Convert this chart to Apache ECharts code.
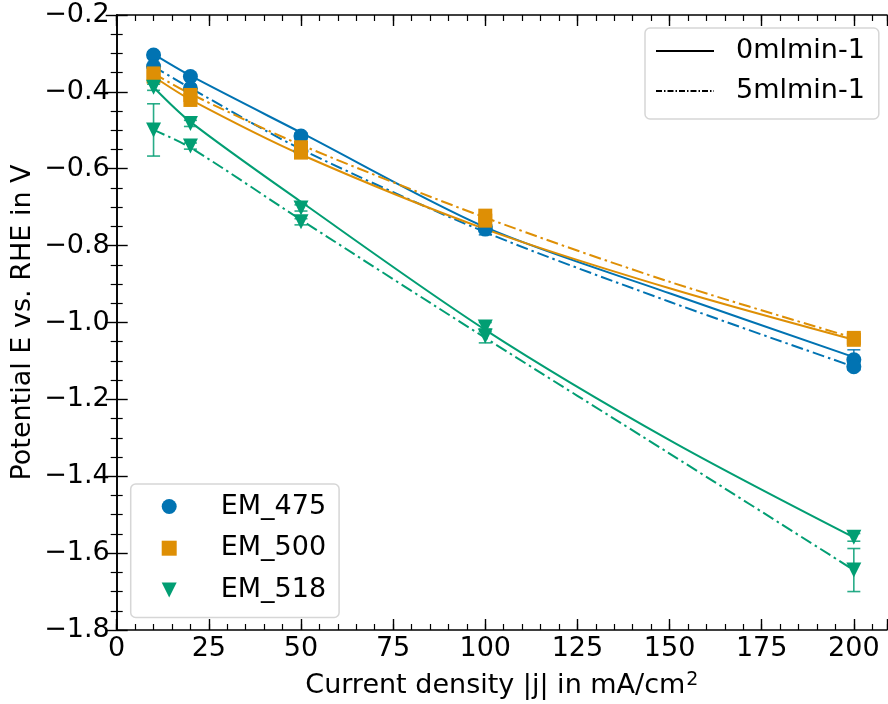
<!DOCTYPE html>
<html><head><meta charset="utf-8">
<script src="https://cdn.jsdelivr.net/npm/echarts@6/dist/echarts.min.js"></script>
<style>html,body{margin:0;padding:0;background:#fff}#c{width:888px;height:704px}</style>
</head><body><div id="c"></div>
<script>
// ---- data ----
const currentDensity = [10, 20, 50, 100, 200];
const xTicks = [0, 25, 50, 75, 100, 125, 150, 175, 200];
const yTicks = [-1.8, -1.6, -1.4, -1.2, -1.0, -0.8, -0.6, -0.4, -0.2];

const em475_0ml     = [-0.304, -0.360, -0.515, -0.751, -1.097];
const em475_0ml_err = [0.008, 0.008, 0.008, 0.008, 0.026];
const em475_5ml     = [-0.334, -0.391, -0.554, -0.757, -1.115];
const em475_5ml_err = [0.008, 0.008, 0.008, 0.015, 0.008];
const em500_0ml     = [-0.360, -0.421, -0.558, -0.735, -1.045];
const em500_0ml_err = [0.008, 0.008, 0.008, 0.008, 0.008];
const em500_5ml     = [-0.352, -0.408, -0.544, -0.722, -1.040];
const em500_5ml_err = [0.008, 0.008, 0.008, 0.008, 0.010];
const em518_0ml     = [-0.388, -0.482, -0.702, -1.012, -1.559];
const em518_0ml_err = [0.008, 0.008, 0.008, 0.012, 0.010];
const em518_5ml     = [-0.499, -0.541, -0.738, -1.035, -1.644];
const em518_5ml_err = [0.068, 0.008, 0.008, 0.018, 0.056];

// fitted curves
const fitDensity  = [10, 20, 50, 100, 150, 200];
const fit475_0ml  = [-0.302, -0.358, -0.506, -0.752, -0.924, -1.090];
const fit475_5ml  = [-0.334, -0.390, -0.549, -0.765, -0.946, -1.115];
const fit500_0ml  = [-0.360, -0.420, -0.563, -0.757, -0.911, -1.045];
const fit500_5ml  = [-0.352, -0.405, -0.538, -0.727, -0.894, -1.040];
const fit518_0ml  = [-0.388, -0.478, -0.686, -1.019, -1.306, -1.559];
const fit518_5ml  = [-0.499, -0.545, -0.733, -1.040, -1.341, -1.644];

const sampleNames = ['EM_475', 'EM_500', 'EM_518'];
const flowNames = ['0mlmin-1', '5mlmin-1'];

// ---- styling ----
const FONT = 'DejaVu Sans';
const C_BLUE = '#0173b2', C_ORANGE = '#de8f05', C_GREEN = '#029e73';
const DASHDOT = [12, 4, 2.5, 4];
const TRI_DOWN = 'path://M0,0 L20,0 L10,20 Z';

function pts(xs, ys) { return xs.map((x, i) => [x, ys[i]]); }
function errPts(xs, ys, es) { return xs.map((x, i) => [x, ys[i], es[i]]); }

function fitSeries(xs, ys, color, dashed) {
  return {
    type: 'line', data: pts(xs, ys), smooth: 0.3, symbol: 'none', z: 2,
    silent: true, legendHoverLink: false,
    lineStyle: { color: color, width: 2, type: dashed ? DASHDOT : 'solid' }
  };
}
function errSeries(data, color) {
  return {
    type: 'custom', z: 3, silent: true, data: data,
    renderItem: function (params, api) {
      const x = api.value(0), y = api.value(1), e = api.value(2);
      const t = api.coord([x, y + e]), b = api.coord([x, y - e]);
      const st = { stroke: color, lineWidth: 1.6, opacity: 0.85 };
      return { type: 'group', children: [
        { type: 'line', shape: { x1: t[0], y1: t[1], x2: b[0], y2: b[1] }, style: st },
        { type: 'line', shape: { x1: t[0] - 6.5, y1: t[1], x2: t[0] + 6.5, y2: t[1] }, style: st },
        { type: 'line', shape: { x1: b[0] - 6.5, y1: b[1], x2: b[0] + 6.5, y2: b[1] }, style: st }
      ]};
    }
  };
}
function markerSeries(name, data, color, symbol, size) {
  return {
    type: 'scatter', name: name, data: data, symbol: symbol, symbolSize: size, z: 4,
    itemStyle: { color: color, opacity: 1 }
  };
}

const axisLine = { show: true, lineStyle: { color: '#000', width: 1.6 } };
const majorTick = { show: true, inside: true, length: 11, lineStyle: { color: '#000', width: 1.4 } };
const minorTickStyle = { show: true, inside: true, length: 6, lineStyle: { color: '#000', width: 1.2 } };

const option = {
  backgroundColor: '#fff',
  animation: false,
  textStyle: { fontFamily: FONT },
  grid: { left: 116.7, right: 1, top: 15, bottom: 74, containLabel: false, outerBoundsMode: 'none' },
  xAxis: [
    { type: 'value', position: 'bottom', min: 0, max: 209, interval: 25,
      axisLine: axisLine, axisTick: majorTick, splitLine: { show: false },
      axisLabel: { fontSize: 27, color: '#000', fontFamily: FONT, margin: 5,
        formatter: v => (xTicks.indexOf(v) >= 0 ? String(v) : '') },
      name: 'Current density |j| in mA/cm{sup|2}', nameLocation: 'middle', nameGap: 41,
      nameTextStyle: { fontSize: 27, color: '#000', fontFamily: FONT,
        rich: { sup: { fontSize: 19, color: '#000', fontFamily: FONT, verticalAlign: 'top', padding: [0, 0, 10, 1] } } } },
    { type: 'value', position: 'bottom', min: 0, max: 209, interval: 5,
      axisLine: { show: false }, axisTick: minorTickStyle, axisLabel: { show: false }, splitLine: { show: false } },
    { type: 'value', position: 'top', min: 0, max: 209, interval: 25,
      axisLine: axisLine, axisTick: majorTick, axisLabel: { show: false }, splitLine: { show: false } },
    { type: 'value', position: 'top', min: 0, max: 209, interval: 5,
      axisLine: { show: false }, axisTick: minorTickStyle, axisLabel: { show: false }, splitLine: { show: false } }
  ],
  yAxis: [
    { type: 'value', position: 'left', min: -1.8, max: -0.2, interval: 0.2,
      axisLine: axisLine, axisTick: majorTick, splitLine: { show: false },
      minorTick: Object.assign({ splitNumber: 4 }, minorTickStyle), minorSplitLine: { show: false },
      axisLabel: { fontSize: 27, color: '#000', fontFamily: FONT, margin: 7,
        formatter: v => v.toFixed(1).replace('-', '\u2212') },
      name: 'Potential E vs. RHE in V', nameLocation: 'middle', nameGap: 80, nameMoveOverlap: false,
      nameTextStyle: { fontSize: 27, color: '#000', fontFamily: FONT } },
    { type: 'value', position: 'right', min: -1.8, max: -0.2, interval: 0.2,
      axisLine: axisLine, axisTick: majorTick, splitLine: { show: false },
      minorTick: Object.assign({ splitNumber: 4 }, minorTickStyle), minorSplitLine: { show: false },
      axisLabel: { show: false } }
  ],
  legend: [
    { data: sampleNames, orient: 'vertical', left: 130.7, top: 484,
      padding: [9, 13, 14, 31], itemGap: 14.7, itemWidth: 15, itemHeight: 15,
      backgroundColor: 'rgba(255,255,255,0.8)', borderColor: '#d6d6d6', borderWidth: 1.5, borderRadius: 5,
      selectedMode: false,
      textStyle: { fontSize: 27, color: '#000', fontFamily: FONT, padding: [0, 0, 0, 39] } },
    { data: flowNames, orient: 'vertical', left: 645, top: 28,
      padding: [9.5, 14, 14.5, 10], itemGap: 13, itemWidth: 58, itemHeight: 2,
      backgroundColor: 'rgba(255,255,255,0.8)', borderColor: '#d6d6d6', borderWidth: 1.5, borderRadius: 5,
      selectedMode: false,
      itemStyle: { opacity: 0, borderWidth: 0 },
      textStyle: { fontSize: 27, color: '#000', fontFamily: FONT, padding: [0, 0, 0, 17] } }
  ],
  series: [
    fitSeries(fitDensity, fit475_0ml, C_BLUE, false),
    fitSeries(fitDensity, fit475_5ml, C_BLUE, true),
    fitSeries(fitDensity, fit500_0ml, C_ORANGE, false),
    fitSeries(fitDensity, fit500_5ml, C_ORANGE, true),
    fitSeries(fitDensity, fit518_0ml, C_GREEN, false),
    fitSeries(fitDensity, fit518_5ml, C_GREEN, true),
    errSeries(errPts(currentDensity, em475_0ml, em475_0ml_err).concat(errPts(currentDensity, em475_5ml, em475_5ml_err)), C_BLUE),
    errSeries(errPts(currentDensity, em500_0ml, em500_0ml_err).concat(errPts(currentDensity, em500_5ml, em500_5ml_err)), C_ORANGE),
    errSeries(errPts(currentDensity, em518_0ml, em518_0ml_err).concat(errPts(currentDensity, em518_5ml, em518_5ml_err)), C_GREEN),
    markerSeries('EM_475', pts(currentDensity, em475_0ml).concat(pts(currentDensity, em475_5ml)), C_BLUE, 'circle', 15),
    markerSeries('EM_500', pts(currentDensity, em500_0ml).concat(pts(currentDensity, em500_5ml)), C_ORANGE, 'rect', 14),
    markerSeries('EM_518', pts(currentDensity, em518_0ml).concat(pts(currentDensity, em518_5ml)), C_GREEN, TRI_DOWN, [15, 15]),
    { type: 'line', name: flowNames[0], data: [], symbol: 'none',
      itemStyle: { color: '#000' }, lineStyle: { color: '#000', width: 1.5, type: 'solid' } },
    { type: 'line', name: flowNames[1], data: [], symbol: 'none',
      itemStyle: { color: '#000' }, lineStyle: { color: '#000', width: 1.5, type: [6, 2, 1.5, 2] } }
  ]
};

const chart = echarts.init(document.getElementById('c'), null, { renderer: 'canvas' });
chart.setOption(option);
</script>
</body></html>
